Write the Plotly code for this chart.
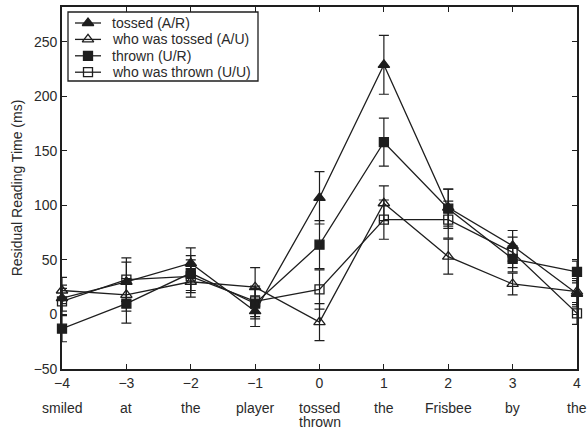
import plotly.graph_objects as go

positions = [-4, -3, -2, -1, 0, 1, 2, 3, 4]
words = ["smiled", "at", "the", "player", "tossed\nthrown", "the", "Frisbee", "by", "the"]

series_names = ["tossed (A/R)", "who was tossed (A/U)", "thrown (U/R)", "who was thrown (U/U)"]
tossed_AR = [15, 30, 47, 3, 107, 229, 98, 63, 19]
tossed_AU = [22, 18, 30, 25, -7, 102, 53, 28, 21]
thrown_UR = [-13, 10, 38, 10, 64, 158, 97, 51, 39]
thrown_UU = [12, 32, 35, 12, 23, 87, 87, 57, 1]

err_AR = [12, 18, 14, 14, 24, 27, 17, 14, 12]
err_AU = [12, 15, 14, 18, 17, 16, 16, 10, 12]
err_UR = [12, 18, 16, 14, 22, 22, 18, 12, 10]
err_UU = [12, 20, 15, 14, 18, 18, 17, 14, 10]

y_ticks = [-50, 0, 50, 100, 150, 200, 250]

INK = "#1e1e1e"
TXT = "#2a2a2a"
FONT = "Liberation Sans, Arial, Helvetica, sans-serif"

W, H = 587, 428
ML, MR, MT, MB = 62, 10, 7, 59
PW, PH = W - ML - MR, H - MT - MB

symbols = ["triangle-up", "triangle-up-open", "square", "square-open"]
values = [tossed_AR, tossed_AU, thrown_UR, thrown_UU]
errors = [err_AR, err_AU, err_UR, err_UU]

fig = go.Figure()
for name, vals, errs, sym in zip(series_names, values, errors, symbols):
    fig.add_trace(go.Scatter(
        x=positions, y=vals, name=name, mode="lines+markers",
        line=dict(color=INK, width=1.3),
        marker=dict(symbol=sym, size=10 if "triangle" in sym else 9, color=INK,
                    line=dict(color=INK, width=1.3)),
        error_y=dict(type="data", array=errs, visible=True, color=INK,
                     thickness=1.2, width=5),
        cliponaxis=False, showlegend=False,
    ))

# legend drawn in a pixel-based overlay coordinate system of the plot area
LEG_BOX = (6, 5, 196, 74)
LEG_ROW0, LEG_ROW_STEP = 16, 16.4
LEG_LINE = (13, 39)
LEG_TEXT_X = 48

fig.add_shape(type="rect", xref="x2", yref="y2",
              x0=LEG_BOX[0], y0=LEG_BOX[1], x1=LEG_BOX[2], y1=LEG_BOX[3],
              line=dict(color=INK, width=1.3), fillcolor="white", layer="below")
for i, (name, sym) in enumerate(zip(series_names, symbols)):
    yc = LEG_ROW0 + i * LEG_ROW_STEP
    fig.add_trace(go.Scatter(
        x=list(LEG_LINE), y=[yc, yc], xaxis="x2", yaxis="y2", mode="lines",
        line=dict(color=INK, width=1.3), showlegend=False, hoverinfo="skip",
    ))
    fig.add_trace(go.Scatter(
        x=[(LEG_LINE[0] + LEG_LINE[1]) / 2], y=[yc], xaxis="x2", yaxis="y2",
        mode="markers", showlegend=False, hoverinfo="skip",
        marker=dict(symbol=sym, size=10 if "triangle" in sym else 9, color=INK,
                    line=dict(color=INK, width=1.3)),
    ))
    fig.add_annotation(x=LEG_TEXT_X, y=yc, xref="x2", yref="y2", text=name,
                       showarrow=False, xanchor="left", yanchor="middle",
                       font=dict(family=FONT, size=14, color=TXT))

for xv, w in zip(positions, words):
    for i, part in enumerate(w.split("\n")):
        fig.add_annotation(
            x=xv, y=0, xref="x", yref="paper", text=part, showarrow=False,
            yanchor="top", xanchor="center", yshift=-30 - 14 * i,
            borderpad=0,
            font=dict(family=FONT, size=14, color=TXT),
        )

fig.update_layout(
    width=W, height=H,
    margin=dict(l=ML, r=MR, t=MT, b=MB),
    paper_bgcolor="white", plot_bgcolor="white",
    font=dict(family=FONT, size=14, color=TXT),
    showlegend=False,
    xaxis=dict(
        range=[-4, 4], tickvals=positions, ticks="inside", ticklen=5,
        tickcolor=INK, showline=True, linecolor=INK, linewidth=1.6,
        mirror="ticks", showgrid=False, zeroline=False, automargin=False,
        tickfont=dict(family=FONT, size=14, color=TXT),
    ),
    yaxis=dict(
        range=[-50, 282], tickvals=y_ticks, ticks="inside", ticklen=5,
        tickcolor=INK, showline=True, linecolor=INK, linewidth=1.6,
        mirror="ticks", showgrid=False, zeroline=False, automargin=False,
        title=dict(text="Residual Reading Time (ms)", standoff=8,
                   font=dict(family=FONT, size=14, color=TXT)),
        tickfont=dict(family=FONT, size=14, color=TXT),
    ),
    xaxis2=dict(overlaying="x", range=[0, PW], visible=False, fixedrange=True),
    yaxis2=dict(overlaying="y", range=[PH, 0], visible=False, fixedrange=True),
)

fig.write_html("out.html", config={"displayModeBar": False},
               post_script="document.body.style.margin='0';document.body.style.padding='0';")
